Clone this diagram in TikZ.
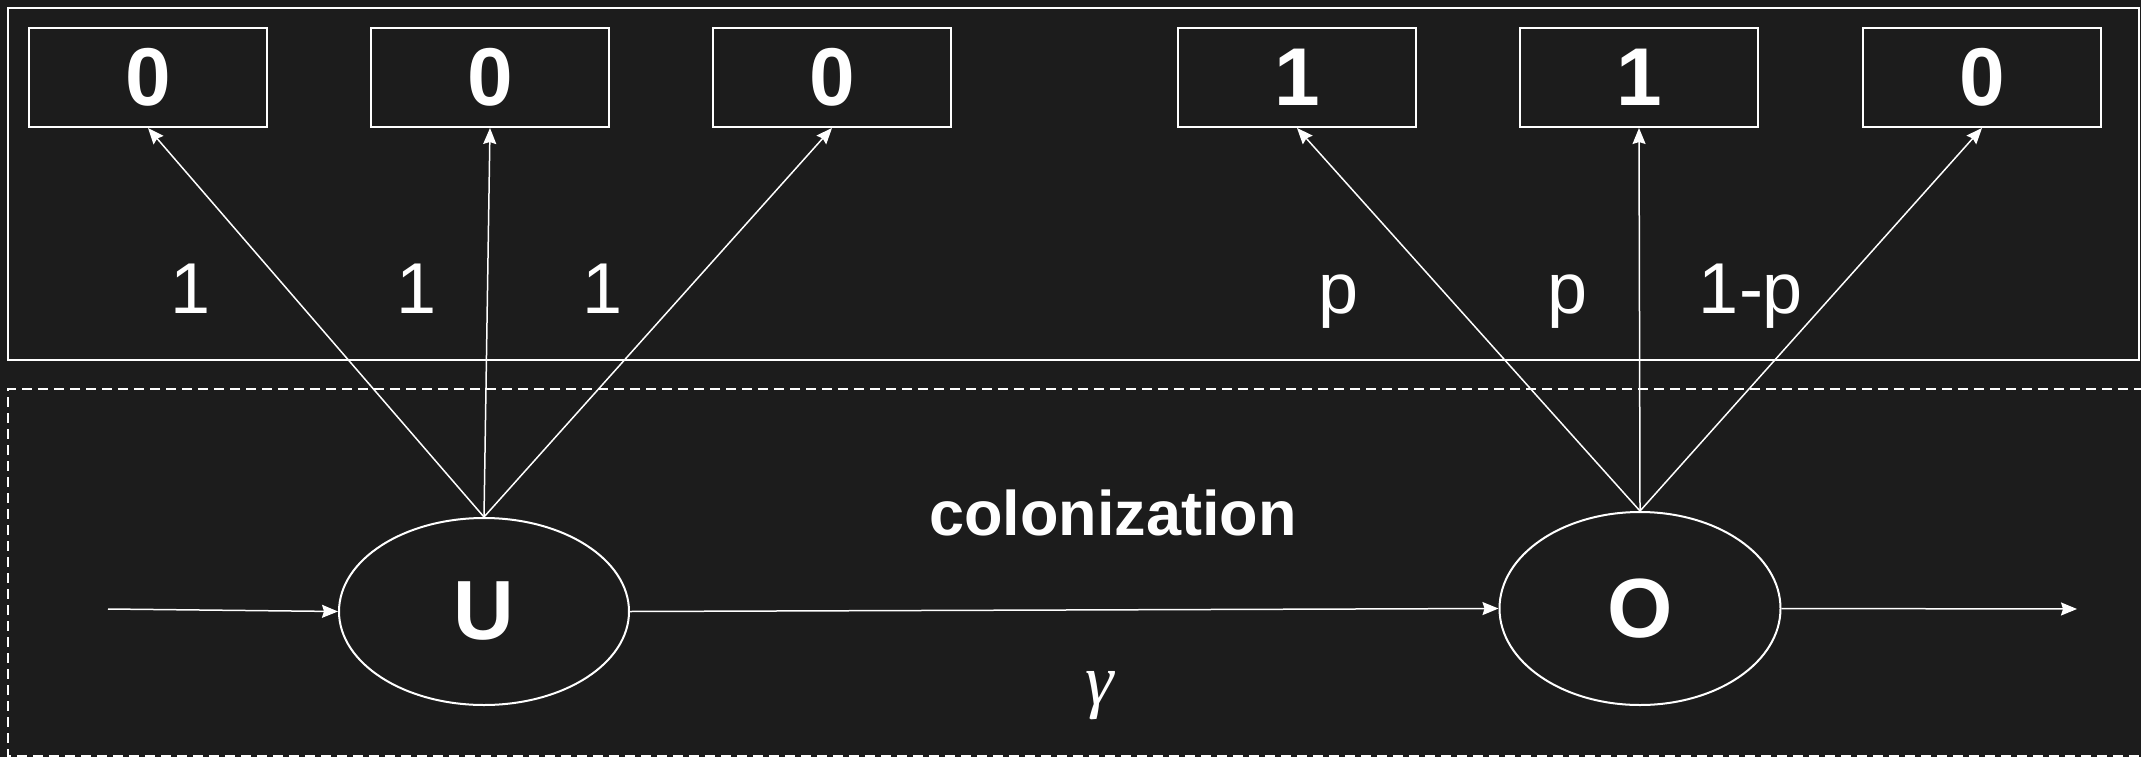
\documentclass[tikz,border=0pt]{standalone}
\usepackage{fontspec}
\setmainfont{Liberation Sans}
\newfontfamily\greekit{Liberation Serif}
\usetikzlibrary{shapes.geometric,arrows.meta}
\definecolor{bg}{HTML}{1C1C1C}
\begin{document}
\begin{tikzpicture}[x=1pt,y=-1pt,
  valbox/.style={draw=white,line width=2pt,minimum width=238pt,minimum height=99pt,inner sep=0pt,text=white,font=\fontsize{82}{90}\selectfont\bfseries},
  state/.style={draw=white,line width=2pt,ellipse,inner sep=0pt,text=white,font=\fontsize{84}{90}\selectfont\bfseries},
  arr/.style={draw=white,line width=1.5pt,-{Stealth[length=16pt,width=13pt,inset=2pt]}},
  lab/.style={text=white,anchor=base,inner sep=0pt,font=\fontsize{72}{80}\selectfont}]
\useasboundingbox (0,0) rectangle (2141,757);
\fill[bg] (0,0) rectangle (2141,757);
\begin{scope}
\clip (0,0) rectangle (2141,757);
\draw[white,line width=2pt] (8,8) rectangle (2139,360);
\draw[white,line width=2pt,dash pattern=on 10pt off 6pt] (2160,389) -- (8,389) -- (8,756) -- (2160,756);
\end{scope}
\node[valbox] (b1) at (148,77.5) {0};
\node[valbox] (b2) at (490,77.5) {0};
\node[valbox] (b3) at (832,77.5) {0};
\node[valbox] (b4) at (1297,77.5) {1};
\node[valbox] (b5) at (1639,77.5) {1};
\node[valbox] (b6) at (1982,77.5) {0};
\node[state,minimum width=290pt,minimum height=187pt] (U) at (484,611.5) {U};
\node[state,minimum width=281pt,minimum height=193pt] (O) at (1640,608.5) {O};
\coordinate (in) at (108,609);
\coordinate (out) at (2077,609);
\draw[arr] (in) -- (U.west);
\draw[arr] (U.east) -- (O.west);
\draw[arr] (O.east) -- (out);
\draw[arr] (U.north) -- (b1.south);
\draw[arr] (U.north) -- (b2.south);
\draw[arr] (U.north) -- (b3.south);
\draw[arr] (O.north) -- (b4.south);
\draw[arr] (O.north) -- (b5.south);
\draw[arr] (O.north) -- (b6.south);
\node[lab] (l1) at (191,313) {1};
\node[lab] (l2) at (417,313) {1};
\node[lab] (l3) at (603,313) {1};
\node[lab] (l4) at (1339,313) {p};
\node[lab] (l5) at (1568,313) {p};
\node[lab] (l6) at (1751,313) {1-p};
\node[text=white,anchor=base,inner sep=0pt,font=\fontsize{63}{70}\selectfont\bfseries] (col) at (1113,535) {colonization};
\node[text=white,anchor=base,inner sep=0pt,font=\fontsize{72}{76}\selectfont\greekit\itshape] (gam) at (1100,704) {γ};
\end{tikzpicture}
\end{document}
